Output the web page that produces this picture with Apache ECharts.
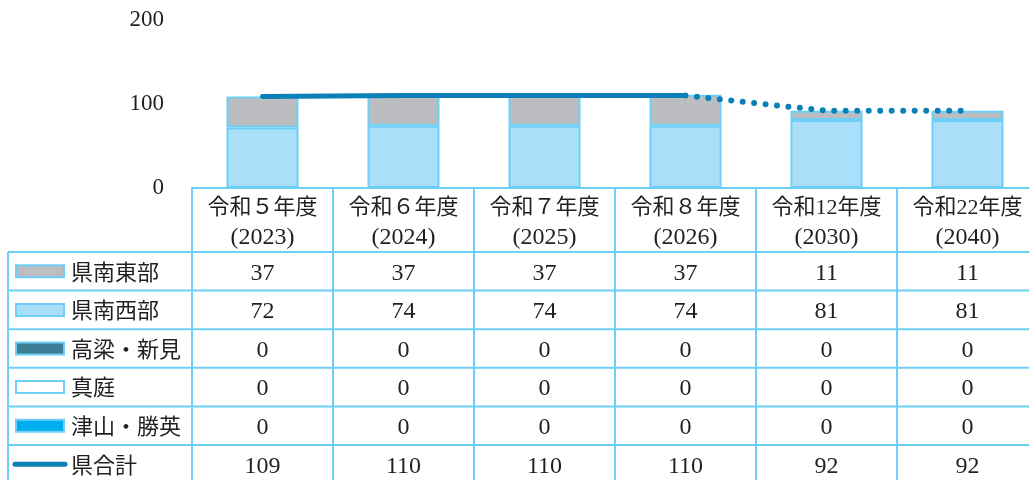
<!DOCTYPE html>
<html>
<head>
<meta charset="utf-8">
<script src="https://cdn.jsdelivr.net/npm/echarts@6/dist/echarts.min.js"></script>
<style>
  html, body { margin: 0; padding: 0; background: #fff; }
  #chart { width: 1029px; height: 480px; }
</style>
</head>
<body>
<div id="chart"></div>
<script>
// 年度（列見出し）
const years = ['令和５年度\n(2023)', '令和６年度\n(2024)', '令和７年度\n(2025)', '令和８年度\n(2026)', '令和12年度\n(2030)', '令和22年度\n(2040)'];
// 圏域別
const southEast = [37, 37, 37, 37, 11, 11];      // 県南東部
const southWest = [72, 74, 74, 74, 81, 81];      // 県南西部
const takahashiNiimi = [0, 0, 0, 0, 0, 0];       // 高梁・新見
const maniwa = [0, 0, 0, 0, 0, 0];               // 真庭
const tsuyamaShoei = [0, 0, 0, 0, 0, 0];         // 津山・勝英
const total = [109, 110, 110, 110, 92, 92];      // 県合計
const lastActual = 3; // ここまで実線、以降は点線

const BORDER = '#6dcff6';
const TEXT = '#231f20';
const LINE = '#0a80b7';
const SERIF = "'Liberation Serif', 'DejaVu Serif', 'Noto Sans CJK JP', serif";
const JP = "'Noto Sans CJK JP', sans-serif";

const rows = [
  {name: '県南東部', data: southEast, fill: '#bcbdc0'},
  {name: '県南西部', data: southWest, fill: '#aadff9'},
  {name: '高梁・新見', data: takahashiNiimi, fill: '#3c7c94'},
  {name: '真庭', data: maniwa, fill: '#ffffff'},
  {name: '津山・勝英', data: tsuyamaShoei, fill: '#00aeef'},
  {name: '県合計', data: total, line: true}
];

let chart = echarts.init(document.getElementById('chart'));

function barSeries(row) {
  return {
    name: row.name,
    type: 'bar',
    stack: 'area',
    barWidth: 72,
    data: row.data,
    itemStyle: {color: row.fill, borderColor: BORDER, borderWidth: 2},
    emphasis: {disabled: true}
  };
}

chart.setOption({
  animation: false,
  grid: {left: 192, top: 20, width: 846, height: 168, containLabel: false, outerBoundsMode: 'none'},
  xAxis: {
    type: 'category',
    data: years,
    axisLine: {show: true, lineStyle: {color: BORDER, width: 2}},
    axisTick: {show: false},
    axisLabel: {
      show: true, interval: 0, margin: 6,
      formatter: v => {
        let p = v.split('\n');
        return '{a|' + p[0] + '}\n{b|' + p[1] + '}';
      },
      rich: {
        a: {fontSize: 22, fontFamily: SERIF, color: TEXT, lineHeight: 29},
        b: {fontSize: 24, fontFamily: SERIF, color: TEXT, lineHeight: 29}
      }
    }
  },
  yAxis: {
    type: 'value',
    min: 0, max: 200, interval: 100,
    axisLine: {show: false},
    axisTick: {show: false},
    splitLine: {show: false},
    axisLabel: {margin: 28, fontSize: 23, fontFamily: SERIF, color: TEXT}
  },
  series: [
    barSeries(rows[4]),
    barSeries(rows[3]),
    barSeries(rows[2]),
    barSeries(rows[1]),
    barSeries(rows[0]),
    {
      name: '県合計', type: 'line', symbol: 'none',
      data: total.map((v, i) => i <= lastActual ? v : '-'),
      lineStyle: {color: LINE, width: 5, cap: 'round'},
      z: 5
    },
    {
      name: '県合計（見込）', type: 'line', symbol: 'none',
      data: total.map((v, i) => i >= lastActual ? v : '-'),
      lineStyle: {color: LINE, width: 6, type: [0, 11.5], cap: 'round'},
      z: 5
    }
  ]
});

// データ表（列位置は x 軸から取得）
const centers = years.map((y, i) => chart.convertToPixel({xAxisIndex: 0}, i));
const band = centers[1] - centers[0];
const axisY = chart.convertToPixel({yAxisIndex: 0}, 0);
const headerBottom = 252;
const rowH = 38.6;
const tableLeft = 8;
const W = 1029, H = 480;

const g = [];
function hline(y, x1, x2) {
  g.push({type: 'line', shape: {x1: x1, y1: y, x2: x2, y2: y}, style: {stroke: BORDER, lineWidth: 2}, silent: true});
}
function vline(x, y1, y2) {
  g.push({type: 'line', shape: {x1: x, y1: y1, x2: x, y2: y2}, style: {stroke: BORDER, lineWidth: 2}, silent: true});
}

// 縦線
vline(tableLeft, headerBottom, H);
centers.forEach(c => vline(c - band / 2, axisY, H));
vline(centers[centers.length - 1] + band / 2, axisY, H);
// 横線
for (let r = 0; r < rows.length; r++) {
  hline(headerBottom + r * rowH, tableLeft, W + 10);
}

rows.forEach((row, r) => {
  const cy = headerBottom + r * rowH + rowH / 2;
  // 凡例マーク
  if (row.line) {
    g.push({type: 'line', shape: {x1: 15, y1: cy, x2: 65, y2: cy},
      style: {stroke: LINE, lineWidth: 5, lineCap: 'round'}, silent: true});
  } else {
    g.push({type: 'rect', shape: {x: 16, y: cy - 6, width: 48, height: 12},
      style: {fill: row.fill, stroke: BORDER, lineWidth: 2}, silent: true});
  }
  g.push({type: 'text', x: 71, y: cy, silent: true,
    style: {text: row.name, font: '22px ' + JP, fill: TEXT, align: 'left', verticalAlign: 'middle'}});
  // 数値
  row.data.forEach((v, i) => {
    g.push({type: 'text', x: centers[i], y: cy + 2, silent: true,
      style: {text: String(v), font: '24px ' + SERIF, fill: TEXT, align: 'center', verticalAlign: 'middle'}});
  });
});

chart.setOption({graphic: g});
</script>
</body>
</html>
